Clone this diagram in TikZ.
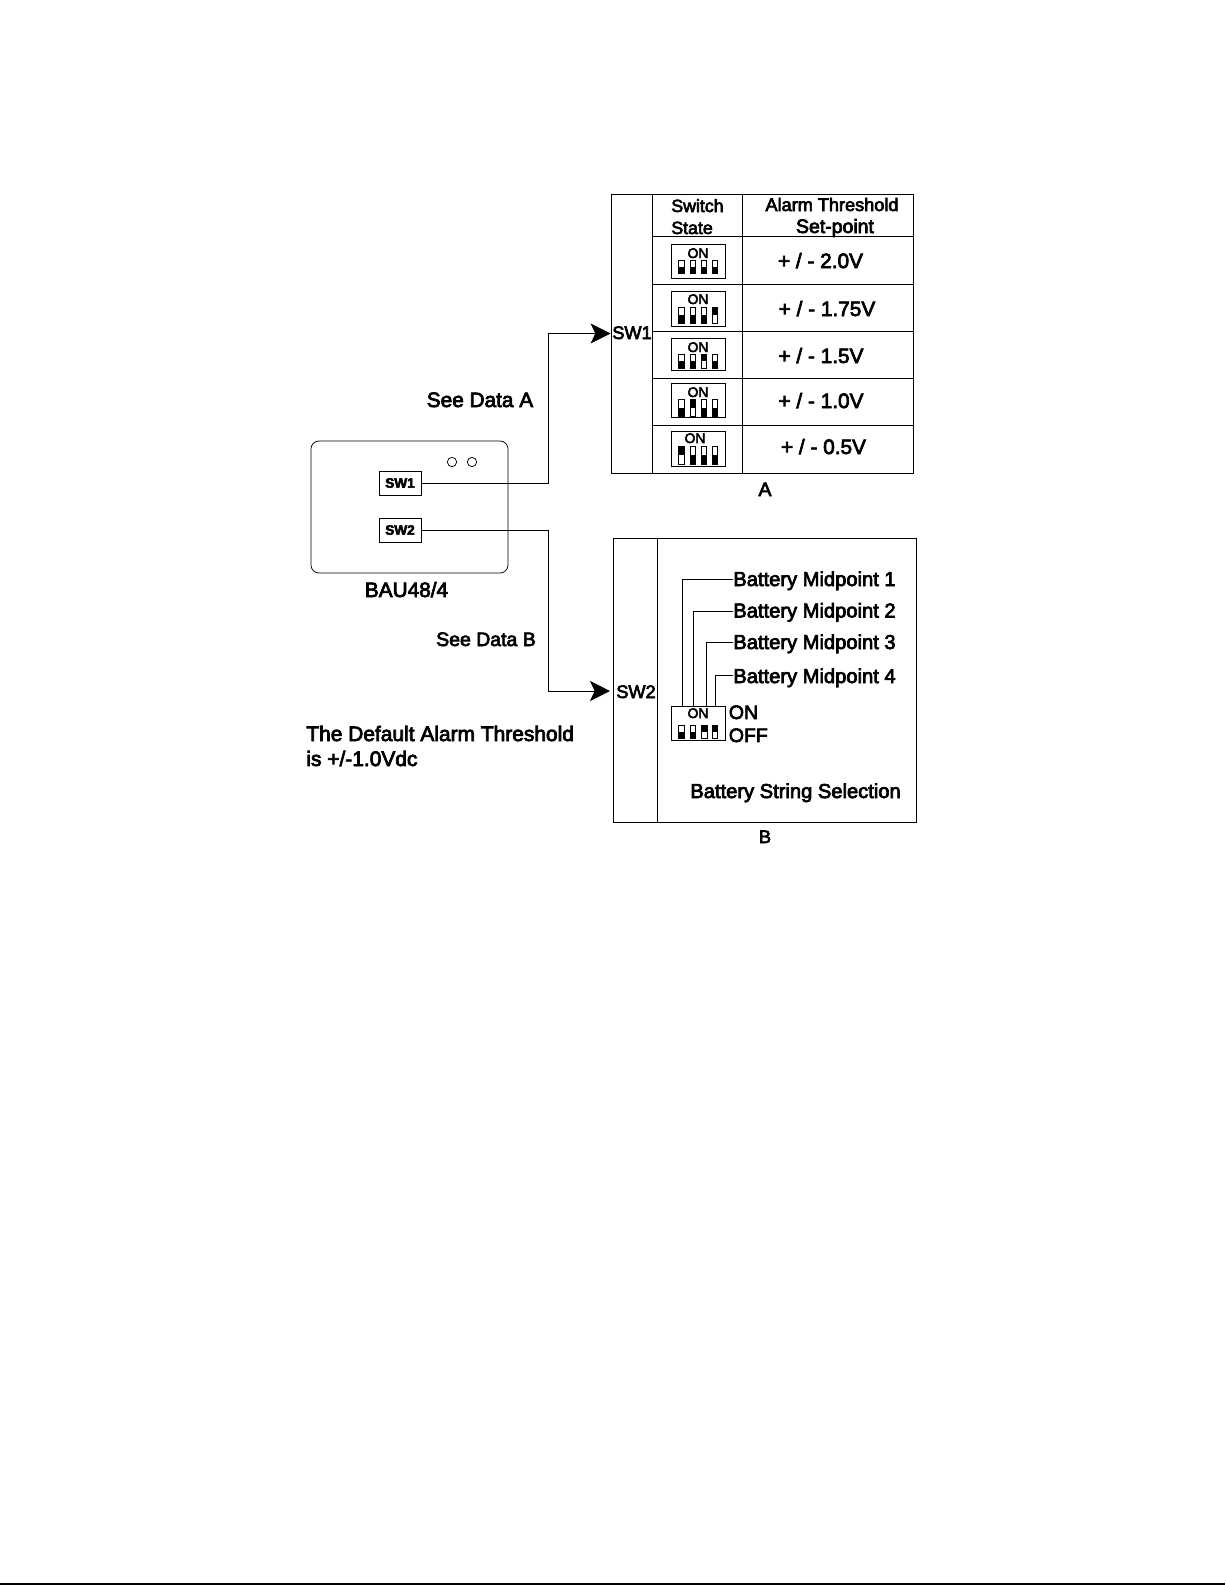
\documentclass[tikz,border=0pt]{standalone}
\usepackage{fontspec}
\setmainfont{Liberation Sans}[FakeBold=3.5]
\usetikzlibrary{arrows.meta}

% one slot of a dip switch: x, top, bottom, 1 when it is on
\newcommand{\dipslot}[4]{
  \draw (#1-2.75,#2) rectangle (#1+2.75,#3);
  \ifnum#4=1
    \fill (#1-2.75,#2) rectangle (#1+2.75,{(#2+#3)/2});
  \else
    \fill (#1-2.75,{(#2+#3)/2}) rectangle (#1+2.75,#3);
  \fi
}

\begin{document}
\begin{tikzpicture}[x=0.75pt,y=-0.75pt,line width=0.55pt,
    every node/.style={inner sep=0pt,anchor=base},
    big/.style={font=\fontsize{15.6}{18}\selectfont},
    mid/.style={font=\fontsize{14.6}{18}\selectfont},
    batt/.style={font=\fontsize{15.1}{18}\selectfont},
    small/.style={font=\fontsize{13.6}{18}\selectfont},
    dipon/.style={font=\fontsize{10.4}{12}\selectfont},
    swbox/.style={draw,anchor=center,minimum width=31.5pt,minimum height=18pt,
      font=\fontsize{10.2}{12}\selectfont\bfseries},
    feed/.style={-{Stealth[length=15pt,width=15pt,inset=3.5pt]}}]
  \useasboundingbox (0,0) rectangle (1225,1585);

  % unit
  \draw (406.5,597) node[big](bau) {BAU48/4};
  \draw (409.5,507) node[draw,anchor=center,rounded corners=6pt,minimum width=147.75pt,minimum height=99pt](unit) {};
  \draw (452,462) node[draw,circle,anchor=center,minimum size=7pt](ledA) {};
  \draw (472,462) node[draw,circle,anchor=center,minimum size=7pt](ledB) {};
  \draw (400,483) node[swbox](swA) {SW1};
  \draw (400,530) node[swbox](swB) {SW2};

  \draw (480,407) node[big](seeA) {See Data A};
  \draw (486,646) node[mid](seeB) {See Data B};
  \draw (306,741) node[anchor=base west,font=\fontsize{15.7}{18}\selectfont](defA) {The Default Alarm Threshold};
  \draw (306,766) node[anchor=base west,font=\fontsize{15.7}{18}\selectfont](defB) {is +/-1.0Vdc};

  % table A
  \draw (631.5,333.5) node[draw,anchor=center,minimum width=30.75pt,minimum height=209.25pt](sideA) {};
  \draw (611,194) rectangle (913,473);
  \draw (742,194) -- (742,473);
  \foreach \ry in {236,284,331,378,425}
    \draw (652,\ry) -- (913,\ry);
  \draw (632,339) node[small](labA) {SW1};
  \draw (671,212) node[anchor=base west,font=\fontsize{13.3}{18}\selectfont](hdA) {Switch};
  \draw (671,234) node[anchor=base west,font=\fontsize{13.3}{18}\selectfont](hdB) {State};
  \draw (832,211) node[small](hdC) {Alarm Threshold};
  \draw (835,233) node[mid](hdD) {Set-point};
  \draw (820.5,268) node[big](valA) {+ / - 2.0V};
  \draw (827,316) node[big](valB) {+ / - 1.75V};
  \draw (821,363) node[big](valC) {+ / - 1.5V};
  \draw (821,408) node[big](valD) {+ / - 1.0V};
  \draw (823.5,454) node[big](valE) {+ / - 0.5V};
  \draw (765,496) node[mid](capA) {A};

  % switches of table A
  \foreach \bt/\bb/\tx/\tb/\st/\sb/\on in {
      244/278/698/258/260/273/0,
      291/326/698/304/307/323/4,
      338/370/698/352/354/368/3,
      383/417/698/397/399/416/2,
      431/466/695/443/446/464/1} {
    \draw (671,\bt) rectangle (725,\bb);
    \node[dipon] at (\tx,\tb) {ON};
    \foreach \k/\sx in {1/681.5,2/693,3/704,4/715} {
      \ifnum\k=\on \dipslot{\sx}{\st}{\sb}{1} \else \dipslot{\sx}{\st}{\sb}{0} \fi
    }
  }

  % table B
  \draw (613,538) rectangle (916.5,822);
  \draw (657,538) -- (657,822);
  \draw (636,698) node[small](labB) {SW2};
  \coordinate (tipB) at (610,691);
  \draw (733,586) node[batt,anchor=base west](bmA) {Battery Midpoint 1};
  \draw (733,617.5) node[batt,anchor=base west](bmB) {Battery Midpoint 2};
  \draw (733,649) node[batt,anchor=base west](bmC) {Battery Midpoint 3};
  \draw (733,683) node[batt,anchor=base west](bmD) {Battery Midpoint 4};
  \draw (728.5,719) node[mid,anchor=base west](onB) {ON};
  \draw (728.5,742) node[mid,anchor=base west](offB) {OFF};
  \draw (690,798) node[batt,anchor=base west](strB) {Battery String Selection};
  \draw (765,843) node[small](capB) {B};

  % switch of table B
  \draw (698.5,723) node[draw,anchor=center,minimum width=40.5pt,minimum height=25.5pt](dipB) {};
  \draw (698,718) node[dipon](dipBon) {ON};
  \dipslot{681.5}{725}{738}{0}
  \dipslot{693}{725}{738}{0}
  \dipslot{704.5}{725}{738}{1}
  \dipslot{715}{725}{738}{1}

  \coordinate (pinA) at (682,706);
  \coordinate (pinB) at (693,706);
  \coordinate (pinC) at (706,706);
  \coordinate (pinD) at (715,706);
  \path[draw] ([yshift=1pt]bmA.west) -| (pinA);
  \path[draw] ([yshift=1pt]bmB.west) -| (pinB);
  \path[draw] ([yshift=1pt]bmC.west) -| (pinC);
  \path[draw] ([yshift=2pt]bmD.west) -| (pinD);

  % feeds
  \coordinate (turnA) at (548.5,400);
  \coordinate (turnB) at (548.5,600);
  \path[draw,feed] (swA.east) -| (turnA) |- (sideA.west);
  \path[draw,feed] (swB.east) -| (turnB) |- (tipB);

  % page rule
  \coordinate (ruleA) at (0,1584);
  \coordinate (ruleB) at (1225,1584);
  \path[draw,line width=1pt] (ruleA) -- (ruleB);
\end{tikzpicture}
\end{document}
